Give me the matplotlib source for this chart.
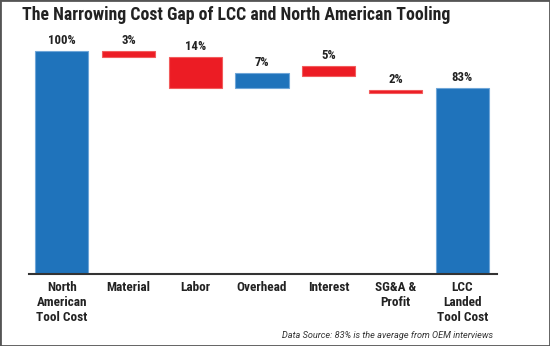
import matplotlib.pyplot as plt
from matplotlib.patches import Rectangle

categories = ["North\nAmerican\nTool Cost", "Material", "Labor", "Overhead",
              "Interest", "SG&A &\nProfit", "LCC\nLanded\nTool Cost"]
pct_labels = [100, 3, 14, 7, 5, 2, 83]
# bar extents (percent of North American cost)
bar_low = [0, 97.3, 83.2, 83.2, 88.7, 81.0, 0]
bar_high = [100, 100, 97.0, 90.1, 93.0, 82.4, 83.2]
bar_kind = ["total", "down", "down", "up", "down", "down", "total"]

BLUE = "#1f73bb"
RED = "#ec1c24"
colors = {"total": BLUE, "up": BLUE, "down": RED}
edges = {"total": "#6fa6d8", "up": "#6fa6d8", "down": "#f25c5c"}

plt.rcParams["font.family"] = ["Roboto Condensed", "DejaVu Sans"]

fig = plt.figure(figsize=(5.5, 3.46), dpi=100)
ax = fig.add_axes([29 / 550, 72 / 346, 468 / 550, 234 / 346])

x = range(len(categories))
heights = [h - l for l, h in zip(bar_low, bar_high)]
ax.bar(x, heights, bottom=bar_low, width=0.8,
       color=[colors[k] for k in bar_kind],
       edgecolor=[edges[k] for k in bar_kind], linewidth=0.8)

for xi, top, p in zip(x, bar_high, pct_labels):
    ax.annotate(f"{p}%", (xi, top), xytext=(0, 3), textcoords="offset points",
                ha="center", va="bottom", fontsize=9.2, fontweight="bold", color="#222222")

ax.set_xlim(-0.49, 6.52)
ax.set_ylim(0, 104.8)
ax.set_xticks(list(x))
ax.set_xticklabels(categories, fontsize=9.5, fontweight="bold", color="#222222",
                   linespacing=1.2, va="top")
ax.tick_params(axis="x", length=0, pad=5)
ax.set_yticks([])
for s in ["top", "right", "left"]:
    ax.spines[s].set_visible(False)
ax.spines["bottom"].set_color("#333333")
ax.spines["bottom"].set_linewidth(1.5)

fig.text(22 / 550, 1 - 15 / 346, "The Narrowing Cost Gap of LCC and North American Tooling",
         ha="left", va="center", fontsize=12.8, fontweight="bold", color="#222222")
fig.text(493 / 550, 1 - 335 / 346, "Data Source: 83% is the average from OEM interviews",
         ha="right", va="center", fontsize=6.6, style="italic", color="#333333",
         family=["Roboto", "DejaVu Sans"])

fig.patches.append(Rectangle((0, 0), 1, 1, transform=fig.transFigure, fill=False,
                             edgecolor="#555555", linewidth=2))

fig.savefig("out.png", dpi=100)
